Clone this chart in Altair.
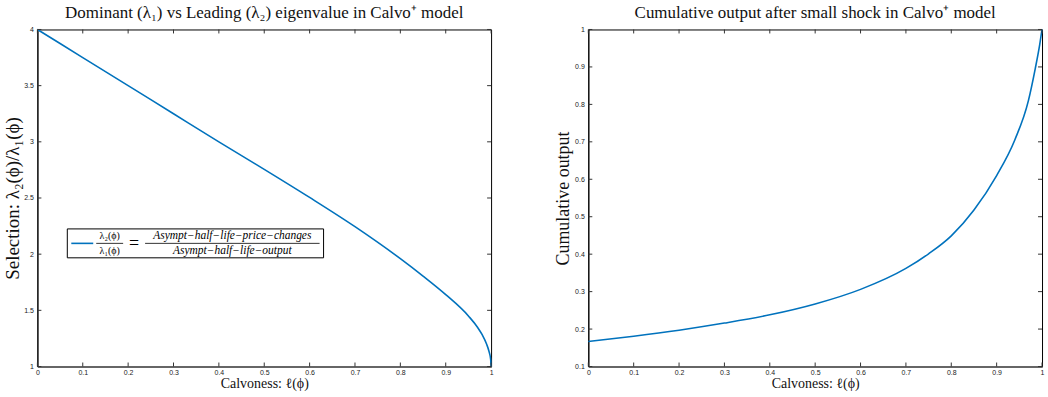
import altair as alt
import pandas as pd

# ---- data ----
calv_left = [0.0, 0.1, 0.2, 0.3, 0.4, 0.5, 0.6, 0.7, 0.8, 0.85, 0.9, 0.95, 0.97, 0.98, 0.99, 0.995, 0.999, 1.0]
selection = [4.0, 3.75, 3.50, 3.25, 3.0, 2.755, 2.505, 2.245, 1.96, 1.805, 1.64, 1.45, 1.35, 1.285, 1.20, 1.14, 1.065, 1.0]

calv_right = [0.0, 0.1, 0.2, 0.3, 0.4, 0.5, 0.6, 0.7, 0.75, 0.8, 0.85, 0.9, 0.94, 0.97, 0.985, 0.995, 1.0]
cum_output = [0.167, 0.181, 0.197, 0.216, 0.238, 0.267, 0.306, 0.362, 0.401, 0.449, 0.518, 0.610, 0.705, 0.81, 0.895, 0.96, 1.0]

x_ticks = [0, 0.1, 0.2, 0.3, 0.4, 0.5, 0.6, 0.7, 0.8, 0.9, 1]
left_y_ticks = [1, 1.5, 2, 2.5, 3, 3.5, 4]
right_y_ticks = [0.1, 0.2, 0.3, 0.4, 0.5, 0.6, 0.7, 0.8, 0.9, 1]

title_left = "Dominant (λ₁) vs Leading (λ₂) eigenvalue in Calvo⁺ model"
title_right = "Cumulative output after small shock in Calvo⁺ model"
x_title = "Calvoness: ℓ(ϕ)"
y_title_left = "Selection: λ₂(ϕ)/λ₁(ϕ)"
y_title_right = "Cumulative output"
legend_lhs = ["λ₂(ϕ)", "λ₁(ϕ)"]
legend_rhs = ["Asympt−half−life−price−changes", "Asympt−half−life−output"]

W, H = 455, 338
BLUE = "#0072BD"
SERIF = "Liberation Serif"
SANS = "Liberation Sans"
TICK = 4


def panel(xs_vals, ys_vals, ydomain, yticks, ytitle, ytitle_size, title, extra=None):
    df = pd.DataFrame({"x": xs_vals, "y": ys_vals})
    xsc = alt.Scale(domain=[0, 1], nice=False, zero=False)
    ysc = alt.Scale(domain=ydomain, nice=False, zero=False)
    xax = alt.Axis(
        values=x_ticks, format="~g", title=x_title, ticks=False, grid=False,
        labelFont=SANS, labelFontSize=7, labelColor="#222", labelPadding=2,
        titleFont=SERIF, titleFontSize=14, titleFontWeight="normal", titleColor="#111",
        titlePadding=1, domainColor="#666", domainWidth=2, labelFlush=False)
    yax = alt.Axis(
        values=yticks, format="~g", title=ytitle, ticks=False, grid=False,
        labelFont=SANS, labelFontSize=7, labelColor="#222", labelPadding=4,
        titleFont=SERIF, titleFontSize=ytitle_size, titleFontWeight="normal", titleColor="#111",
        titlePadding=1 + (20 - ytitle_size) / 2, domainColor="#000", domainWidth=1,
        labelFlush=False)
    line = alt.Chart(df).mark_line(color=BLUE, strokeWidth=1.6, interpolate="monotone").encode(
        x=alt.X("x:Q", scale=xsc, axis=xax),
        y=alt.Y("y:Q", scale=ysc, axis=yax),
    )
    xt = pd.DataFrame({"x": x_ticks})
    yt = pd.DataFrame({"y": yticks})
    tb = alt.Chart(xt).mark_rule(color="#333").encode(
        x=alt.X("x:Q", scale=xsc, axis=xax), y=alt.value(H), y2=alt.value(H - TICK))
    tt = alt.Chart(xt).mark_rule(color="#333").encode(
        x=alt.X("x:Q", scale=xsc, axis=xax), y=alt.value(0), y2=alt.value(TICK))
    tl = alt.Chart(yt).mark_rule(color="#333").encode(
        y=alt.Y("y:Q", scale=ysc, axis=yax), x=alt.value(0), x2=alt.value(TICK))
    tr = alt.Chart(yt).mark_rule(color="#333").encode(
        y=alt.Y("y:Q", scale=ysc, axis=yax), x=alt.value(W - TICK), x2=alt.value(W))
    layers = [line, tb, tt, tl, tr]
    if extra:
        layers += extra
    return alt.layer(*layers).properties(
        width=W, height=H,
        title=alt.TitleParams(title, font=SERIF, fontSize=17, fontWeight="normal",
                              color="#111", offset=3.5),
    )


# ---- legend of left panel ----
one = pd.DataFrame({"a": [0]})
LX0, LX1, LY0, LY1 = 30, 287, 200, 229
box = alt.Chart(one).mark_rect(fill="white", stroke="black", strokeWidth=1).encode(
    x=alt.value(LX0), x2=alt.value(LX1), y=alt.value(LY0), y2=alt.value(LY1))
sample = alt.Chart(one).mark_rule(color=BLUE, strokeWidth=1.6).encode(
    x=alt.value(34), x2=alt.value(56), y=alt.value(214.5))
bar1 = alt.Chart(one).mark_rule(color="black", strokeWidth=0.8).encode(
    x=alt.value(59), x2=alt.value(86), y=alt.value(214.5))
bar2 = alt.Chart(one).mark_rule(color="black", strokeWidth=0.8).encode(
    x=alt.value(108), x2=alt.value(283), y=alt.value(214.5))
num1 = alt.Chart(one).mark_text(font=SERIF, fontSize=10, color="black").encode(
    x=alt.value(72.5), y=alt.value(207), text=alt.value(legend_lhs[0]))
den1 = alt.Chart(one).mark_text(font=SERIF, fontSize=10, color="black").encode(
    x=alt.value(72.5), y=alt.value(222.5), text=alt.value(legend_lhs[1]))
eq = alt.Chart(one).mark_text(font=SERIF, fontSize=18, color="black").encode(
    x=alt.value(97), y=alt.value(215.5), text=alt.value("="))
num2 = alt.Chart(one).mark_text(font=SERIF, fontSize=11.5, fontStyle="italic", color="black").encode(
    x=alt.value(195.5), y=alt.value(207), text=alt.value(legend_rhs[0]))
den2 = alt.Chart(one).mark_text(font=SERIF, fontSize=11.5, fontStyle="italic", color="black").encode(
    x=alt.value(195.5), y=alt.value(222.5), text=alt.value(legend_rhs[1]))

left = panel(calv_left, selection, [1, 4], left_y_ticks, y_title_left, 19, title_left,
             extra=[box, sample, bar1, bar2, num1, den1, eq, num2, den2])
right = panel(calv_right, cum_output, [0.1, 1], right_y_ticks, y_title_right, 18, title_right)

chart = alt.hconcat(left, right, spacing=58.5).properties(
    padding={"left": 2.5, "top": 3, "right": 1.5, "bottom": 2},
    background="white",
).configure_view(stroke="black", strokeWidth=1)

chart.save("out.html", embed_options={"renderer": "svg", "actions": False})
